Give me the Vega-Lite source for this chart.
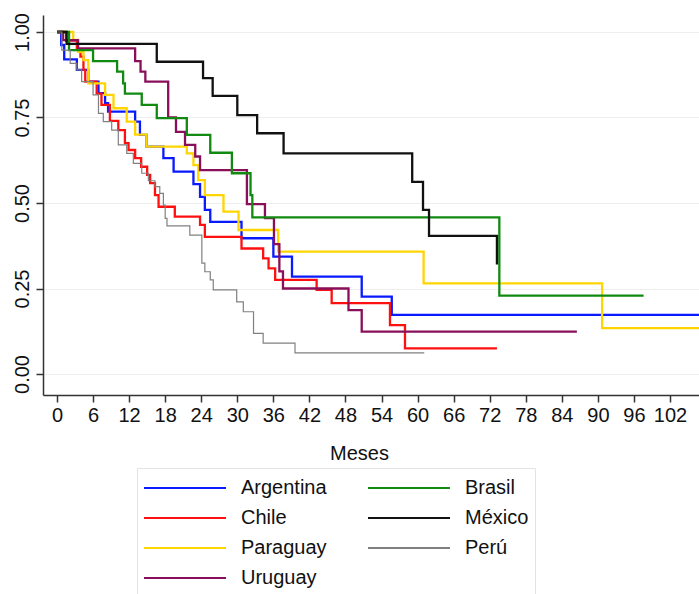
{
  "$schema": "https://vega.github.io/schema/vega-lite/v6.json",
  "width": 656,
  "height": 380,
  "autosize": {"type": "none"},
  "padding": {"left": 43, "top": 15, "right": 0, "bottom": 199},
  "background": "white",
  "config": {"view": {"stroke": null}, "font": "Liberation Sans"},
  "datasets": {
    "km": [
      {"c": "Argentina", "m": 0, "s": 1}, {"c": "Argentina", "m": 0.7, "s": 0.962}, {"c": "Argentina", "m": 1.2, "s": 0.92}, {"c": "Argentina", "m": 3.3, "s": 0.889}, {"c": "Argentina", "m": 5.2, "s": 0.855}, {"c": "Argentina", "m": 6.9, "s": 0.821}, {"c": "Argentina", "m": 8.0, "s": 0.792}, {"c": "Argentina", "m": 8.5, "s": 0.767}, {"c": "Argentina", "m": 13.0, "s": 0.738}, {"c": "Argentina", "m": 13.8, "s": 0.699}, {"c": "Argentina", "m": 14.9, "s": 0.665}, {"c": "Argentina", "m": 17.7, "s": 0.631}, {"c": "Argentina", "m": 19.4, "s": 0.592}, {"c": "Argentina", "m": 22.7, "s": 0.555}, {"c": "Argentina", "m": 23.8, "s": 0.518}, {"c": "Argentina", "m": 24.6, "s": 0.48}, {"c": "Argentina", "m": 25.5, "s": 0.445}, {"c": "Argentina", "m": 30.7, "s": 0.397}, {"c": "Argentina", "m": 36.0, "s": 0.343}, {"c": "Argentina", "m": 39.1, "s": 0.285}, {"c": "Argentina", "m": 50.7, "s": 0.226}, {"c": "Argentina", "m": 55.7, "s": 0.173}, {"c": "Argentina", "m": 107, "s": 0.173},

      {"c": "Chile", "m": 0, "s": 1}, {"c": "Chile", "m": 1.5, "s": 0.975}, {"c": "Chile", "m": 3.3, "s": 0.95}, {"c": "Chile", "m": 3.9, "s": 0.928}, {"c": "Chile", "m": 4.4, "s": 0.889}, {"c": "Chile", "m": 4.7, "s": 0.855}, {"c": "Chile", "m": 6.6, "s": 0.82}, {"c": "Chile", "m": 7.4, "s": 0.787}, {"c": "Chile", "m": 8.8, "s": 0.74}, {"c": "Chile", "m": 10.2, "s": 0.713}, {"c": "Chile", "m": 11.3, "s": 0.675}, {"c": "Chile", "m": 11.9, "s": 0.655}, {"c": "Chile", "m": 13.0, "s": 0.631}, {"c": "Chile", "m": 14.0, "s": 0.606}, {"c": "Chile", "m": 15.0, "s": 0.582}, {"c": "Chile", "m": 15.5, "s": 0.558}, {"c": "Chile", "m": 16.3, "s": 0.523}, {"c": "Chile", "m": 16.9, "s": 0.489}, {"c": "Chile", "m": 19.6, "s": 0.46}, {"c": "Chile", "m": 23.8, "s": 0.436}, {"c": "Chile", "m": 24.6, "s": 0.401}, {"c": "Chile", "m": 30.7, "s": 0.367}, {"c": "Chile", "m": 34.3, "s": 0.338}, {"c": "Chile", "m": 35.2, "s": 0.309}, {"c": "Chile", "m": 36.3, "s": 0.275}, {"c": "Chile", "m": 43.2, "s": 0.246}, {"c": "Chile", "m": 45.7, "s": 0.207}, {"c": "Chile", "m": 55.4, "s": 0.143}, {"c": "Chile", "m": 57.9, "s": 0.075}, {"c": "Chile", "m": 73.2, "s": 0.075},

      {"c": "Paraguay", "m": 0, "s": 1}, {"c": "Paraguay", "m": 2.7, "s": 0.977}, {"c": "Paraguay", "m": 3.5, "s": 0.942}, {"c": "Paraguay", "m": 4.4, "s": 0.918}, {"c": "Paraguay", "m": 5.2, "s": 0.85}, {"c": "Paraguay", "m": 8.0, "s": 0.816}, {"c": "Paraguay", "m": 9.4, "s": 0.777}, {"c": "Paraguay", "m": 11.6, "s": 0.738}, {"c": "Paraguay", "m": 13.0, "s": 0.70}, {"c": "Paraguay", "m": 14.9, "s": 0.665}, {"c": "Paraguay", "m": 21.6, "s": 0.645}, {"c": "Paraguay", "m": 22.7, "s": 0.611}, {"c": "Paraguay", "m": 23.5, "s": 0.567}, {"c": "Paraguay", "m": 24.6, "s": 0.523}, {"c": "Paraguay", "m": 27.7, "s": 0.475}, {"c": "Paraguay", "m": 30.2, "s": 0.421}, {"c": "Paraguay", "m": 36.8, "s": 0.358}, {"c": "Paraguay", "m": 61.0, "s": 0.265}, {"c": "Paraguay", "m": 90.7, "s": 0.134}, {"c": "Paraguay", "m": 107, "s": 0.134},

      {"c": "Uruguay", "m": 0, "s": 1}, {"c": "Uruguay", "m": 1.0, "s": 0.976}, {"c": "Uruguay", "m": 3.5, "s": 0.952}, {"c": "Uruguay", "m": 13.0, "s": 0.915}, {"c": "Uruguay", "m": 13.9, "s": 0.884}, {"c": "Uruguay", "m": 14.7, "s": 0.855}, {"c": "Uruguay", "m": 18.5, "s": 0.75}, {"c": "Uruguay", "m": 19.8, "s": 0.708}, {"c": "Uruguay", "m": 21.3, "s": 0.67}, {"c": "Uruguay", "m": 23.0, "s": 0.636}, {"c": "Uruguay", "m": 23.8, "s": 0.596}, {"c": "Uruguay", "m": 31.6, "s": 0.497}, {"c": "Uruguay", "m": 34.6, "s": 0.456}, {"c": "Uruguay", "m": 36.1, "s": 0.38}, {"c": "Uruguay", "m": 37.0, "s": 0.30}, {"c": "Uruguay", "m": 37.6, "s": 0.25}, {"c": "Uruguay", "m": 48.5, "s": 0.187}, {"c": "Uruguay", "m": 50.7, "s": 0.124}, {"c": "Uruguay", "m": 86.5, "s": 0.124},

      {"c": "Brasil", "m": 0, "s": 1}, {"c": "Brasil", "m": 2.0, "s": 0.947}, {"c": "Brasil", "m": 6.0, "s": 0.915}, {"c": "Brasil", "m": 10.0, "s": 0.884}, {"c": "Brasil", "m": 11.0, "s": 0.85}, {"c": "Brasil", "m": 11.3, "s": 0.82}, {"c": "Brasil", "m": 14.1, "s": 0.787}, {"c": "Brasil", "m": 16.6, "s": 0.748}, {"c": "Brasil", "m": 21.6, "s": 0.699}, {"c": "Brasil", "m": 25.5, "s": 0.647}, {"c": "Brasil", "m": 29.1, "s": 0.587}, {"c": "Brasil", "m": 32.2, "s": 0.523}, {"c": "Brasil", "m": 32.5, "s": 0.458}, {"c": "Brasil", "m": 73.6, "s": 0.229}, {"c": "Brasil", "m": 97.6, "s": 0.229},

      {"c": "México", "m": 0, "s": 1}, {"c": "México", "m": 1.6, "s": 0.965}, {"c": "México", "m": 16.6, "s": 0.913}, {"c": "México", "m": 24.3, "s": 0.865}, {"c": "México", "m": 25.9, "s": 0.813}, {"c": "México", "m": 30.0, "s": 0.757}, {"c": "México", "m": 33.3, "s": 0.704}, {"c": "México", "m": 37.7, "s": 0.645}, {"c": "México", "m": 59.1, "s": 0.562}, {"c": "México", "m": 60.9, "s": 0.48}, {"c": "México", "m": 61.9, "s": 0.404}, {"c": "México", "m": 73.2, "s": 0.32},

      {"c": "Perú", "m": 0, "s": 1}, {"c": "Perú", "m": 0.8, "s": 0.947}, {"c": "Perú", "m": 2.2, "s": 0.908}, {"c": "Perú", "m": 3.3, "s": 0.889}, {"c": "Perú", "m": 4.1, "s": 0.855}, {"c": "Perú", "m": 6.0, "s": 0.816}, {"c": "Perú", "m": 6.9, "s": 0.762}, {"c": "Perú", "m": 7.7, "s": 0.738}, {"c": "Perú", "m": 9.1, "s": 0.713}, {"c": "Perú", "m": 10.2, "s": 0.67}, {"c": "Perú", "m": 11.6, "s": 0.645}, {"c": "Perú", "m": 12.7, "s": 0.616}, {"c": "Perú", "m": 14.1, "s": 0.587}, {"c": "Perú", "m": 15.2, "s": 0.565}, {"c": "Perú", "m": 16.3, "s": 0.548}, {"c": "Perú", "m": 17.1, "s": 0.528}, {"c": "Perú", "m": 17.7, "s": 0.494}, {"c": "Perú", "m": 18.0, "s": 0.455}, {"c": "Perú", "m": 18.3, "s": 0.433}, {"c": "Perú", "m": 22.1, "s": 0.406}, {"c": "Perú", "m": 24.1, "s": 0.324}, {"c": "Perú", "m": 24.6, "s": 0.299}, {"c": "Perú", "m": 25.5, "s": 0.275}, {"c": "Perú", "m": 26.0, "s": 0.246}, {"c": "Perú", "m": 29.9, "s": 0.211}, {"c": "Perú", "m": 31.0, "s": 0.182}, {"c": "Perú", "m": 32.7, "s": 0.119}, {"c": "Perú", "m": 34.3, "s": 0.09}, {"c": "Perú", "m": 39.6, "s": 0.062}, {"c": "Perú", "m": 61.1, "s": 0.062}
    ]
  },
  "data": {"name": "km"},
  "mark": {"type": "line", "interpolate": "step-after", "clip": true},
  "encoding": {
    "x": {
      "field": "m", "type": "quantitative",
      "scale": {"domain": [-2.33, 106.82], "nice": false, "zero": false},
      "axis": {
        "values": [0, 6, 12, 18, 24, 30, 36, 42, 48, 54, 60, 66, 72, 78, 84, 90, 96, 102],
        "title": "Meses", "grid": false, "tickSize": 7, "labelPadding": 3,
        "labelFontSize": 20, "titleFontSize": 20, "titleFontWeight": "normal",
        "labelFlush": false, "labelOverlap": false,
        "domainColor": "#333333", "domainWidth": 1.5, "tickColor": "#333333", "tickWidth": 1.5,
        "labelColor": "#111111", "titleColor": "#111111",
        "titleX": 316, "titleY": 58, "titleBaseline": "middle", "titleAnchor": "middle"
      }
    },
    "y": {
      "field": "s", "type": "quantitative",
      "scale": {"domain": [-0.0614, 1.0497], "nice": false, "zero": false},
      "axis": {
        "values": [0, 0.25, 0.5, 0.75, 1], "format": ".2f", "title": null,
        "grid": true, "gridColor": "#eeeeee", "gridWidth": 1,
        "tickSize": 7, "labelAngle": -90, "labelAlign": "center", "labelBaseline": "bottom",
        "labelPadding": 4, "labelFontSize": 20, "labelColor": "#111111",
        "domainColor": "#333333", "domainWidth": 1.5, "tickColor": "#333333", "tickWidth": 1.5
      }
    },
    "color": {
      "field": "c", "type": "nominal",
      "scale": {
        "domain": ["Argentina", "Chile", "Paraguay", "Uruguay", "Brasil", "México", "Perú"],
        "range": ["#0a1aff", "#ff1010", "#ffd500", "#8a0f5a", "#108a10", "#111111", "#808080"]
      },
      "legend": {
        "title": null, "orient": "none", "legendX": 94, "legendY": 453,
        "columns": 2, "symbolType": "stroke", "symbolSize": 6724, "symbolStrokeWidth": 2,
        "clipHeight": 28, "rowPadding": 2, "columnPadding": 40, "labelOffset": 14,
        "labelFontSize": 20, "labelColor": "#111111", "labelLimit": 200,
        "padding": 6, "strokeColor": "#e3e3e3"
      }
    },
    "strokeWidth": {"condition": {"test": "datum.c === 'Perú'", "value": 1.2}, "value": 2.3}
  }
}
